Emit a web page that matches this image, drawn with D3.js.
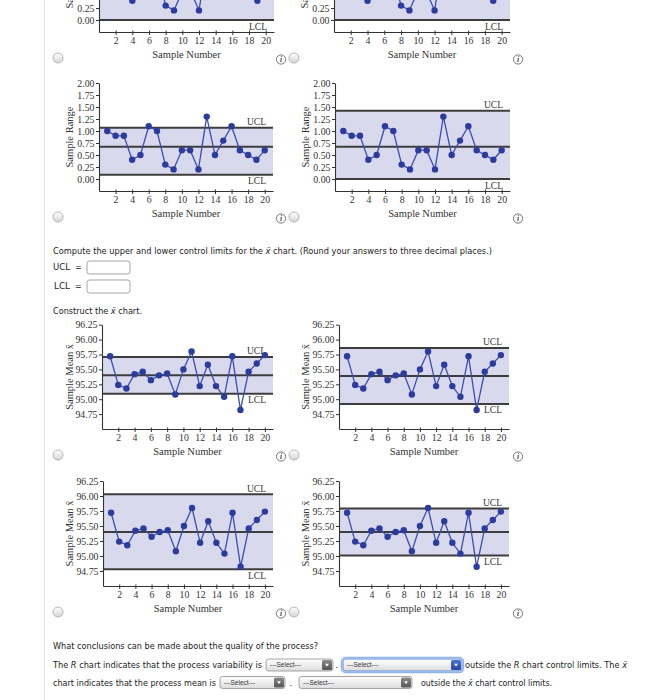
<!DOCTYPE html>
<html><head><meta charset="utf-8">
<script src="https://cdn.jsdelivr.net/npm/d3@7"></script>
<style>body{margin:0;background:#fff}svg{display:block}</style>
</head><body><svg id="c" width="649" height="700"></svg>
<script>
// ---------- DATA ----------
const sampleNumbers = [1,2,3,4,5,6,7,8,9,10,11,12,13,14,15,16,17,18,19,20];
const sampleRanges = [1.0,0.9,0.9,0.4,0.5,1.1,1.0,0.3,0.2,0.6,0.6,0.2,1.3,0.5,0.8,1.1,0.6,0.5,0.4,0.6];
const sampleMeans = [95.72,95.24,95.18,95.42,95.46,95.32,95.40,95.43,95.08,95.50,95.80,95.22,95.58,95.22,95.04,95.72,94.82,95.46,95.60,95.74];
const xTickValues = [2,4,6,8,10,12,14,16,18,20];
const rangeTickValues = [0,0.25,0.5,0.75,1.0,1.25,1.5,1.75,2.0];
const meanTickValues = [94.75,95.0,95.25,95.5,95.75,96.0,96.25];
// control limits of the four answer options per chart type
const rOptionUCL = [1.54,1.30,1.07,1.42];
const rOptionCL  = [0.67,0.67,0.67,0.67];
const rOptionLCL = [0.00,0.00,0.09,0.00];
const mOptionUCL = [95.71,95.86,96.03,95.79];
const mOptionCL  = [95.40,95.39,95.40,95.40];
const mOptionLCL = [95.09,94.92,94.78,95.01];
const rangeDomain = [-0.25,2.0];
const meanDomain = [94.5,96.25];

// ---------- LAYOUT ----------
const svg = d3.select('#c');
const SERIF = "'Liberation Serif','Times New Roman',serif";
const SANS = "'DejaVu Sans',Verdana,sans-serif";
const defs = svg.append('defs');
function grad(id,c0,c1){
  const lg = defs.append('linearGradient').attr('id',id).attr('x1',0).attr('y1',0).attr('x2',0).attr('y2',1);
  lg.append('stop').attr('offset','0').attr('stop-color',c0);
  lg.append('stop').attr('offset','1').attr('stop-color',c1);
}
grad('radioG','#ffffff','#d6d6d6');
grad('selG','#ffffff','#dcdcdc');
grad('btnG','#8a8a8a','#555555');
grad('btnB','#4f74d0','#2447a8');

svg.append('line').attr('x1',44.5).attr('x2',44.5).attr('y1',0).attr('y2',700).attr('stroke','#e3e3e3');

const panelsR = [
  {x0:99,x1:274,yTop:-76,yBottom:32,lab:26},
  {x0:334,x1:510,yTop:-76,yBottom:32,lab:26.5},
  {x0:99,x1:273,yTop:83,yBottom:191,lab:26},
  {x0:335,x1:510,yTop:83,yBottom:191,lab:26.5}
];
const panelsM = [
  {x0:102,x1:273,yTop:324.7,yBottom:429,lab:29.5},
  {x0:339,x1:509,yTop:324.7,yBottom:429,lab:30.5},
  {x0:103,x1:273,yTop:481,yBottom:586,lab:30},
  {x0:339,x1:509,yTop:481,yBottom:586,lab:30.5}
];

function radio(cx,cy){
  svg.append('circle').attr('cx',cx).attr('cy',cy).attr('r',5).attr('fill','url(#radioG)').attr('stroke','#a4a4a4').attr('stroke-width',0.8);
}
function info(cx,cy){
  svg.append('circle').attr('cx',cx).attr('cy',cy).attr('r',4.6).attr('fill','#fff').attr('stroke','#555').attr('stroke-width',0.8);
  svg.append('text').attr('x',cx).attr('y',cy+2.6).attr('text-anchor','middle').attr('font-family',SERIF)
    .attr('font-style','italic').attr('font-weight','bold').attr('font-size',7.5).attr('fill','#444').text('i');
}

function drawChart(p, values, yDomain, yTicks, ucl, cl, lcl, yLabel, isLeft){
  const g = svg.append('g');
  const x = d3.scaleLinear().domain([0,21]).range([p.x0,p.x1]);
  const y = d3.scaleLinear().domain(yDomain).range([p.yBottom,p.yTop]);
  // band
  g.append('rect').attr('x',x(0)).attr('width',x(21)-x(0))
    .attr('y',y(ucl)).attr('height',y(lcl)-y(ucl)).attr('fill','#d9d9ee');
  [ucl,cl,lcl].forEach(v=>{
    g.append('line').attr('x1',x(0)).attr('x2',x(21)).attr('y1',y(v)).attr('y2',y(v))
      .attr('stroke','#3d3d3d').attr('stroke-width',2);
  });
  if(y(ucl) > 8)
    g.append('text').attr('x',x(21)-7).attr('y',y(ucl)-2.5).attr('text-anchor','end')
      .attr('font-family',SERIF).attr('font-size',9.5).attr('fill','#333').text('UCL');
  g.append('text').attr('x',x(21)-7).attr('y',y(lcl)+9.5).attr('text-anchor','end')
    .attr('font-family',SERIF).attr('font-size',9.5).attr('fill','#333').text('LCL');
  // axes (ticks above the window edge are not drawn)
  const shownTicks = yTicks.filter(v=>y(v) > 4);
  const ya = g.append('g').attr('transform',`translate(${x(0)},0)`)
    .call(d3.axisLeft(y).tickValues(shownTicks).tickFormat(d3.format('.2f')).tickSize(3).tickSizeOuter(0).tickPadding(1.5));
  const xa = g.append('g').attr('transform',`translate(0,${y(yDomain[0])})`)
    .call(d3.axisBottom(x).tickValues(xTickValues).tickSize(3).tickSizeOuter(0).tickPadding(2.5));
  [ya,xa].forEach(a=>{
    a.selectAll('path').attr('stroke','#333').attr('stroke-width',1.1);
    a.selectAll('line').attr('stroke','#333');
    a.selectAll('text').attr('font-family',SERIF).attr('font-size',9.8).attr('fill','#333');
  });
  xa.selectAll('.tick line').attr('y1',-1.5).attr('y2',3);
  // series
  const line = d3.line().x((d,i)=>x(sampleNumbers[i])).y(d=>y(d));
  g.append('path').datum(values).attr('d',line).attr('fill','none').attr('stroke','#3b4db5').attr('stroke-width',1.3);
  g.selectAll('circle.pt').data(values).enter().append('circle').attr('class','pt')
    .attr('cx',(d,i)=>x(sampleNumbers[i])).attr('cy',d=>y(d)).attr('r',3.2).attr('fill','#2c3b9e');
  // titles
  g.append('text').attr('x',(x(0)+x(21))/2).attr('y',y(yDomain[0])+25.5).attr('text-anchor','middle')
    .attr('font-family',SERIF).attr('font-size',10.5).attr('fill','#333').text('Sample Number');
  const cy = (p.yTop+p.yBottom)/2;
  g.append('text').attr('transform',`translate(${x(0)-p.lab},${cy}) rotate(-90)`).attr('text-anchor','middle')
    .attr('font-family',SERIF).attr('font-size',10.5).attr('fill','#333').text(yLabel);
  // radio + info
  const ay = y(yDomain[0]);
  if(isLeft){ radio(58,ay+26); info(281,ay+27.5); }
  else { radio(294,ay+26); info(518,ay+27.5); }
}

panelsR.forEach((p,i)=>drawChart(p,sampleRanges,rangeDomain,rangeTickValues,rOptionUCL[i],rOptionCL[i],rOptionLCL[i],'Sample Range',i%2===0));
panelsM.forEach((p,i)=>drawChart(p,sampleMeans,meanDomain,meanTickValues,mOptionUCL[i],mOptionCL[i],mOptionLCL[i],'Sample Mean x\u0304',i%2===0));

// ---------- TEXT ----------
function textLine(x,y,parts,width){
  const t = svg.append('text').attr('x',x).attr('y',y).attr('font-family',SANS).attr('font-size',8).attr('fill','#222');
  parts.forEach(pt=>{
    const s = t.append('tspan').text(pt.t);
    if(pt.i) s.attr('font-style','italic');
  });
  if(width) t.attr('textLength',width).attr('lengthAdjust','spacingAndGlyphs');
  return t;
}
const XB = 'x\u0304';
textLine(53,254,[{t:'Compute the upper and lower control limits for the '},{t:XB,i:true},{t:' chart. (Round your answers to three decimal places.)'}],439);
textLine(53,270,[{t:'UCL'}],17);
textLine(75,270,[{t:'='}]);
textLine(54,289,[{t:'LCL'}],16);
textLine(75,289,[{t:'='}]);
[[261,274],[280,293]].forEach(b=>{
  svg.append('rect').attr('x',87).attr('y',b[0]).attr('width',43).attr('height',b[1]-b[0]).attr('rx',2.5)
    .attr('fill','#fff').attr('stroke','#9a9a9a').attr('stroke-width',0.9);
});
textLine(53,314,[{t:'Construct the '},{t:XB,i:true},{t:' chart.'}],89);

textLine(53,648.5,[{t:'What conclusions can be made about the quality of the process?'}],265);
textLine(53,668,[{t:'The '},{t:'R',i:true},{t:' chart indicates that the process variability is'}],209);
textLine(335.5,668,[{t:'.'}]);
textLine(465,668,[{t:'outside the '},{t:'R',i:true},{t:' chart control limits. The '},{t:XB,i:true}],162);
textLine(53,685.5,[{t:'chart indicates that the process mean is'}],163);
textLine(289.5,685.5,[{t:'.'}]);
textLine(421,685.5,[{t:'outside the '},{t:XB,i:true},{t:' chart control limits.'}],131);

function selectBox(x0,x1,yc,focused){
  const h=12, y0=yc-h/2;
  if(focused){
    svg.append('rect').attr('x',x0-1.5).attr('y',y0-1.5).attr('width',x1-x0+3).attr('height',h+3).attr('rx',4)
      .attr('fill','none').attr('stroke','#8fb4ee').attr('stroke-width',1.5);
  }
  svg.append('rect').attr('x',x0).attr('y',y0).attr('width',x1-x0).attr('height',h).attr('rx',2.5)
    .attr('fill','url(#selG)').attr('stroke',focused?'#4a7fd8':'#9a9a9a').attr('stroke-width',0.9);
  svg.append('rect').attr('x',x1-11).attr('y',y0+1).attr('width',10).attr('height',h-2).attr('rx',1.5)
    .attr('fill',focused?'url(#btnB)':'url(#btnG)');
  const cx=x1-6, cy=yc;
  svg.append('path').attr('d',`M${cx-2},${cy-1.2}L${cx+2},${cy-1.2}L${cx},${cy+1.6}Z`).attr('fill','#fff');
  svg.append('text').attr('x',x0+4).attr('y',yc+2.3).attr('font-family',"'Liberation Sans',Arial,sans-serif")
    .attr('font-size',6.5).attr('fill','#333').text('---Select---');
}
selectBox(266,333,665,false);
selectBox(343,462,665,true);
selectBox(220,285,682.5,false);
selectBox(299,412,682.5,false);
</script></body></html>
